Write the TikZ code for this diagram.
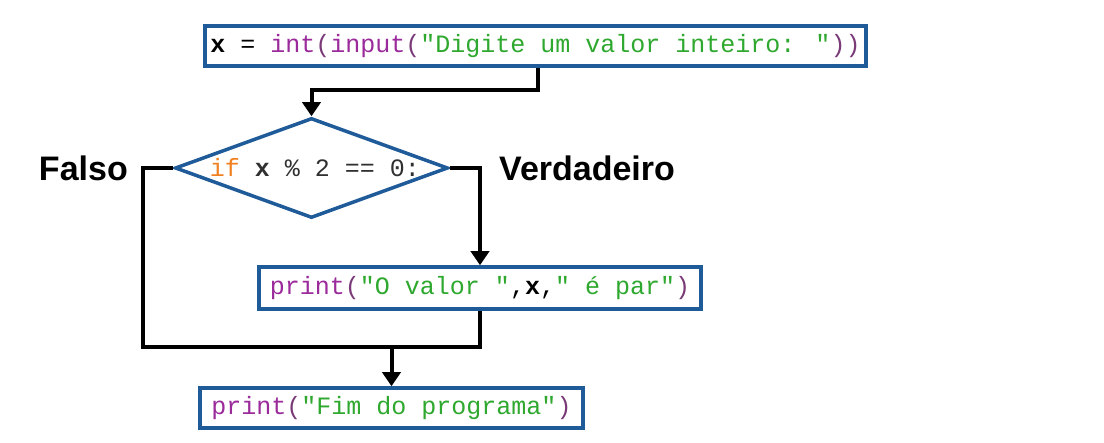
\documentclass[tikz,border=0pt]{standalone}
\usepackage{fontspec}
\setmainfont{Liberation Sans}
\newfontfamily\codefont{Liberation Mono}
\usetikzlibrary{shapes.geometric,arrows.meta}
\definecolor{boxblue}{HTML}{1F5A99}
\definecolor{kwpurple}{HTML}{9B2A9B}
\definecolor{parpurple}{HTML}{7A3A78}
\definecolor{strgreen}{HTML}{2EA82E}
\definecolor{kworange}{HTML}{F08020}
\definecolor{opgray}{HTML}{303030}
\newcommand{\bi}[1]{\textcolor{kwpurple}{#1}}
\newcommand{\pa}[1]{\textcolor{parpurple}{#1}}
\newcommand{\st}[1]{\textcolor{strgreen}{#1}}
\newcommand{\kw}[1]{\textcolor{kworange}{#1}}
\begin{document}
\begin{tikzpicture}[x=1pt,y=-1pt,
  codebox/.style={draw=boxblue, line width=3.5pt, fill=white, inner sep=0pt,
    font=\codefont\fontsize{25}{25}\selectfont},
  decision/.style={diamond, draw=boxblue, line width=3.5pt, fill=white, inner sep=0pt,
    font=\codefont\fontsize{25}{25}\selectfont},
  conn/.style={line width=4pt, black, line join=miter},
  arr/.style={conn, -{Triangle[width=18pt,length=14pt]}},
  lbl/.style={font=\bfseries\fontsize{34}{34}\selectfont, inner sep=0pt}]
\useasboundingbox (0,0) rectangle (1104,443);
\fill[white] (0,0) rectangle (1104,443);

\node[codebox, minimum width=661pt, minimum height=40pt] (box1) at (535.5,46)
  {\textbf{x} = \bi{int}\pa{(}\bi{input}\pa{(}\st{"Digite um valor inteiro: "}\pa{))}};

\node[decision, minimum width=273pt, minimum height=100pt] (dec) at (311.5,168)
  {\makebox[0pt]{\hspace{7pt}\kw{if} \textcolor{opgray}{\textbf{x} \% 2 == 0:}}};

\node[codebox, minimum width=442pt, minimum height=42pt] (box2) at (480,288)
  {\bi{print}\pa{(}\st{"O valor "},\textbf{x},\st{" é par"}\pa{)}};

\node[codebox, minimum width=383pt, minimum height=40pt] (box3) at (391.5,408)
  {\bi{print}\pa{(}\st{"Fim do programa"}\pa{)}};

\node[lbl, anchor=east] (falso) at (128,168) {Falso};
\node[lbl, anchor=west] (verd) at (499,168) {Verdadeiro};

\coordinate (j1) at (538,90);
\coordinate (jl) at (143,347);

\draw[arr] (j1 |- box1.south) -- (j1) -| (dec.north);
\draw[arr] (dec.east) -| (box2.north);
\draw[conn] (dec.west) -| (jl) -| (box2.south);
\draw[arr] (box3.north |- jl) -- (box3.north);
\end{tikzpicture}
\end{document}
